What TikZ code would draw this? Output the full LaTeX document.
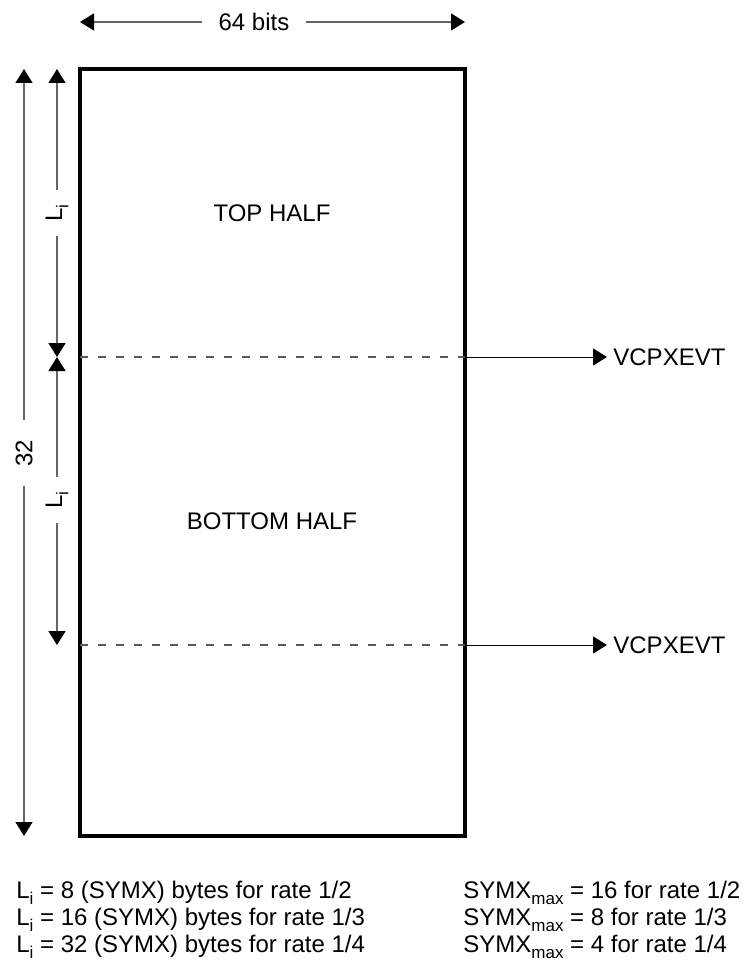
\documentclass[tikz,border=0pt]{standalone}
\usepackage{fontspec}
\setmainfont{Liberation Sans}
\usepackage{tikz}
\usetikzlibrary{arrows.meta,positioning}

\newcommand{\lowsub}[1]{\raisebox{-0.5ex}{\fontsize{8.5pt}{9pt}\selectfont #1}}

\begin{document}
\begin{tikzpicture}[
  x=0.5pt,y=-0.5pt,
  font=\fontsize{12pt}{13.5pt}\selectfont,
  tip/.tip={Triangle[length=7pt,width=8.5pt,black]},
  dim/.style={draw=black!60,line width=0.75pt},
  dimlabel/.style={inner ysep=0pt},
  frame/.style={draw=black,line width=1.6pt},
  split/.style={draw=black!65,line width=0.6pt,dash pattern=on 4pt off 5pt},
  signal/.style={draw=black,line width=0.5pt,-tip},
  note/.style={anchor=base west,inner sep=0pt}
]
  \useasboundingbox (0,0) rectangle (748,962);

  % Buffer outline
  \coordinate (tl) at (80,69);
  \coordinate (br) at (465,836);
  \draw[frame] (tl) rectangle (br);

  % Half boundaries
  \coordinate (m1l) at (80,357);
  \coordinate (m1r) at (465,357);
  \coordinate (m2l) at (80,645);
  \coordinate (m2r) at (465,645);
  \draw[split] (m1l) -- (m1r);
  \draw[split] (m2l) -- (m2r);

  % Section labels
  \node (top) at (272,213) {TOP HALF};
  \node (bot) at (272,521) {BOTTOM HALF};

  % Event outputs
  \node[anchor=west,inner xsep=3pt] (ev1) at (607,357) {VCPXEVT};
  \node[anchor=west,inner xsep=3pt] (ev2) at (607,645) {VCPXEVT};
  \draw[signal] (m1r) -- (ev1.west);
  \draw[signal] (m2r) -- (ev2.west);

  % Width dimension
  \coordinate (wl) at (80,22);
  \coordinate (wr) at (465,22);
  \node[dimlabel,inner xsep=8pt] (bits) at (254,22) {64 bits};
  \draw[dim,-tip] (bits) -- (wl);
  \draw[dim,-tip] (bits) -- (wr);

  % Total length dimension
  \coordinate (t1) at (24,69);
  \coordinate (t2) at (24,836);
  \node[dimlabel,rotate=90,inner xsep=9.5pt] (rows) at (24,453) {32};
  \draw[dim,-tip] (rows) -- (t1);
  \draw[dim,-tip] (rows) -- (t2);

  % Half length dimensions
  \coordinate (a1) at (57,69);
  \coordinate (a2) at (57,357);
  \coordinate (a3) at (57,645);
  \node[dimlabel,rotate=90,inner xsep=7pt] (li1) at (57,213) {L\lowsub{i}};
  \node[dimlabel,rotate=90,inner xsep=7pt] (li2) at (57,500) {L\lowsub{i}};
  \draw[dim,-tip] (li1) -- (a1);
  \draw[dim,-tip] (li1) -- (a2);
  \draw[dim,-tip] (li2) -- (a2);
  \draw[dim,-tip] (li2) -- (a3);

  % Notes
  \node[note] (n1) at (16,898) {L\lowsub{i} = 8 (SYMX) bytes for rate 1/2};
  \node[note] (n2) at (16,925) {L\lowsub{i} = 16 (SYMX) bytes for rate 1/3};
  \node[note] (n3) at (16,952) {L\lowsub{i} = 32 (SYMX) bytes for rate 1/4};
  \node[note] (s1) at (463,898) {SYMX\lowsub{max} = 16 for rate 1/2};
  \node[note] (s2) at (463,925) {SYMX\lowsub{max} = 8 for rate 1/3};
  \node[note] (s3) at (463,952) {SYMX\lowsub{max} = 4 for rate 1/4};
\end{tikzpicture}
\end{document}
